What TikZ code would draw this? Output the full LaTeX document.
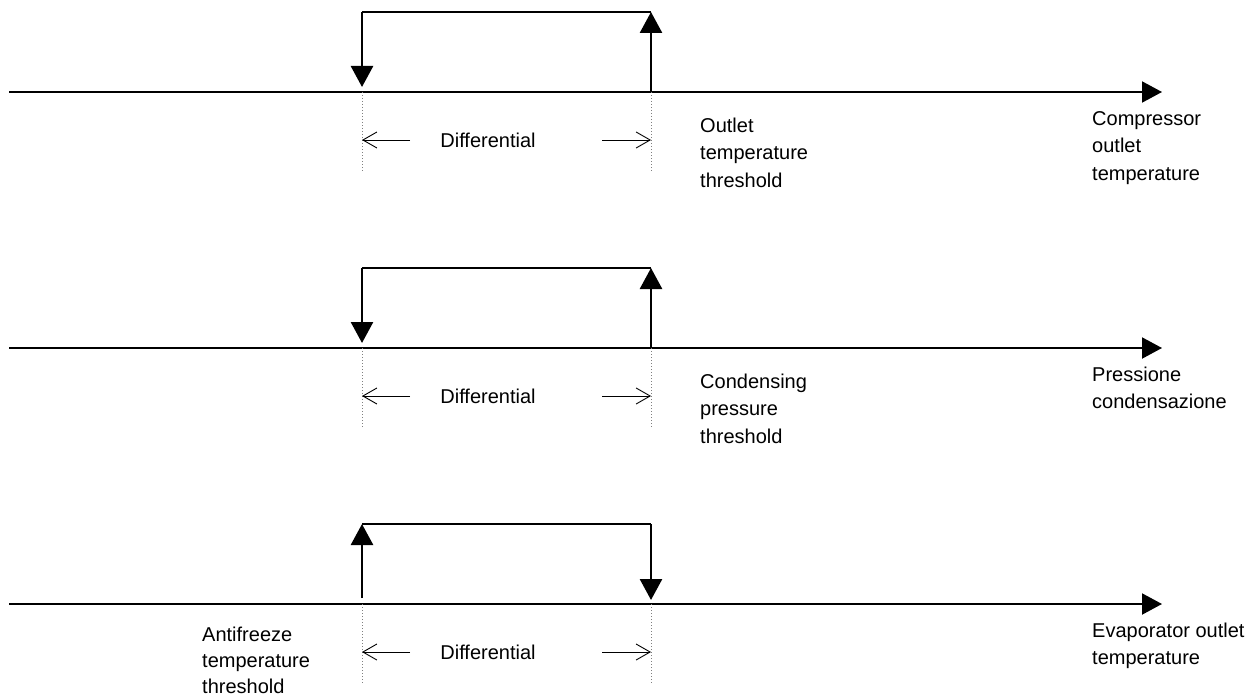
\documentclass[tikz,border=0pt]{standalone}
\usepackage{fontspec}
\setmainfont{Liberation Sans}
\usetikzlibrary{arrows.meta}

\begin{document}
\begin{tikzpicture}[x=1pt,y=-1pt,
  axisline/.style={line width=2pt,-{Triangle[length=20pt,width=21pt]}},
  relay/.style={line width=2.6pt,-{Triangle[length=21pt,width=22pt]}},
  boxline/.style={line width=2.6pt},
  guide/.style={line width=0.8pt,gray,dash pattern=on 1.2pt off 1.8pt},
  span/.style={line width=0.9pt,-{Straight Barb[length=14pt,width=16pt]}},
  lbl/.style={anchor=base west,inner sep=0pt,align=left,font=\fontsize{20}{27.5}\selectfont},
  diff/.style={inner sep=0pt,font=\fontsize{20}{24}\selectfont}]
\useasboundingbox (0,0) rectangle (1252,698);

% common parts of the three hysteresis panels
\foreach \i/\y in {1/92,2/348,3/604} {
  \coordinate (axs\i) at (9,\y);
  \coordinate (axe\i) at (1162,\y);
  \coordinate (lo\i) at (362,\y);
  \coordinate (hi\i) at (651,\y);
  \coordinate (loT\i) at (362,\y-80);
  \coordinate (hiT\i) at (651,\y-80);
  \coordinate (loG\i) at (362,\y+80);
  \coordinate (hiG\i) at (651,\y+80);
  \coordinate (spl\i) at (410,\y+48);
  \coordinate (spr\i) at (602,\y+48);
  \draw[axisline] (axs\i) -- (axe\i);
  \draw[guide] (lo\i) -- (loG\i);
  \draw[guide] (hi\i) -- (hiG\i);
  \node[diff] (dif\i) at (488,\y+48) {Differential};
  \draw[span] (spl\i) -- (spl\i -| lo\i);
  \draw[span] (spr\i) -- (spr\i -| hi\i);
}

% panels 1 and 2: switch on at the upper threshold, off after the differential
\foreach \i in {1,2} {
  \coordinate (tipd\i) at ([yshift=5pt]lo\i);
  \draw[boxline] (hiT\i) -- (loT\i);
  \draw[relay] (loT\i) -- (tipd\i);
  \draw[relay] (hi\i) -- (hiT\i);
}

% panel 3: switch on at the lower threshold
\coordinate (tail3) at ([yshift=6pt]lo3);
\coordinate (tipd3) at ([yshift=4pt]hi3);
\draw[relay] (tail3) -- (loT3);
\draw[boxline] (loT3) -- (hiT3);
\draw[relay] (hiT3) -- (tipd3);

% threshold and variable labels (anchored on the baseline of their last line)
\node[lbl] (thr1) at (700,187) {Outlet\\temperature\\threshold};
\node[lbl] (var1) at (1092,180) {Compressor\\outlet\\temperature};
\node[lbl] (thr2) at (700,443) {Condensing\\pressure\\threshold};
\node[lbl] (var2) at (1092,408.5) {Pressione\\condensazione};
\node[lbl,font=\fontsize{20}{26}\selectfont] (thr3) at (202,693) {Antifreeze\\temperature\\threshold};
\node[lbl] (var3) at (1092,664.5) {Evaporator outlet\\temperature};
\end{tikzpicture}
\end{document}
